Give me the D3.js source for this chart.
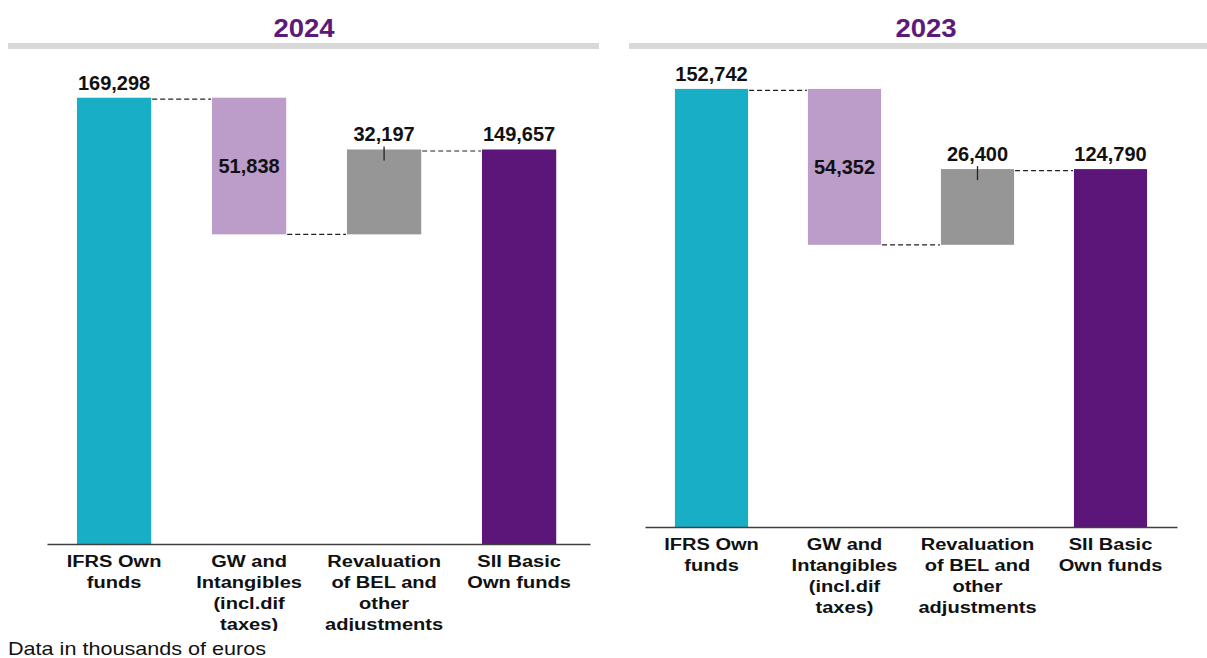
<!DOCTYPE html>
<html>
<head>
<meta charset="utf-8">
<script src="https://cdn.jsdelivr.net/npm/d3@7"></script>
<style>
  html, body { margin: 0; padding: 0; background: #fff; }
  svg { display: block; font-family: "Liberation Sans", Arial, sans-serif; }
</style>
</head>
<body>
<svg id="chart" width="1207" height="658"></svg>
<script>
// ---- data ----
const categories = [
  "IFRS Own\nfunds",
  "GW and\nIntangibles\n(incl.dif\ntaxes)",
  "Revaluation\nof BEL and\nother\nadjustments",
  "SII Basic\nOwn funds"
];
const years = ["2024", "2023"];
const values2024 = [169298, -51838, 32197, 149657];
const values2023 = [152742, -54352, 26400, 124790];
const barTypes = ["total", "delta", "delta", "total"];
const barColors = ["#17aec6", "#bc9cc8", "#969696", "#5c1579"];
const footnote = "Data in thousands of euros";

const svg = d3.select("#chart");
const fmt = d3.format(",");

const panels = [
  { year: years[0], values: values2024, x0: 47, x1: 590, base: 544, top: 69.5, yMax: 180000,
    padOuter: 0.236, align: 0.47,
    titleX: 304, ruleX0: 8, ruleX1: 599, clipBottom: 631 },
  { year: years[1], values: values2023, x0: 645, x1: 1177, base: 527, top: 68.1, yMax: 160000,
    padOuter: 0.225, align: 0.5,
    titleX: 926, ruleX0: 629, ruleX1: 1207, clipBottom: 658 }
];

panels.forEach((p, pi) => {
  const g = svg.append("g");

  // title + rule
  g.append("rect")
    .attr("x", p.ruleX0).attr("y", 43)
    .attr("width", p.ruleX1 - p.ruleX0).attr("height", 6)
    .attr("fill", "#d9d9d9");
  g.append("text")
    .attr("transform", `translate(${p.titleX},37) scale(1.1,1)`)
    .attr("text-anchor", "middle")
    .attr("font-size", 25).attr("font-weight", "bold")
    .attr("fill", "#5c1a7b")
    .text(p.year);

  const x = d3.scaleBand()
    .domain(categories)
    .range([p.x0, p.x1])
    .paddingInner(0.45)
    .paddingOuter(p.padOuter)
    .align(p.align);
  const y = d3.scaleLinear().domain([0, p.yMax]).range([p.base, p.top]);

  // compute waterfall extents
  let running = 0;
  const bars = p.values.map((v, i) => {
    let lo, hi;
    if (barTypes[i] === "total") { lo = 0; hi = v; running = v; }
    else { const start = running; running = start + v; lo = Math.min(start, running); hi = Math.max(start, running); }
    return { cat: categories[i], v, lo, hi, end: running, i };
  });

  // connectors
  for (let i = 0; i < bars.length - 1; i++) {
    const level = bars[i].end;
    const yy = y(level) + (level === bars[i].hi && level === bars[i + 1].hi ? 1.5 : 0);
    g.append("line")
      .attr("x1", x(bars[i].cat) + x.bandwidth() + 1)
      .attr("x2", x(bars[i + 1].cat) - 1)
      .attr("y1", yy).attr("y2", yy)
      .attr("stroke", "#222").attr("stroke-width", 1.2)
      .attr("stroke-dasharray", "5,3");
  }

  // bars
  g.selectAll("rect.bar").data(bars).join("rect")
    .attr("class", "bar")
    .attr("x", d => x(d.cat))
    .attr("y", d => y(d.hi))
    .attr("width", x.bandwidth())
    .attr("height", d => y(d.lo) - y(d.hi))
    .attr("fill", (d, i) => barColors[i]);

  // small tick marker on positive delta bars
  bars.filter(d => barTypes[d.i] === "delta" && d.v > 0).forEach(d => {
    g.append("line")
      .attr("x1", x(d.cat) + x.bandwidth() / 2)
      .attr("x2", x(d.cat) + x.bandwidth() / 2)
      .attr("y1", y(d.hi) - 3).attr("y2", y(d.hi) + 11)
      .attr("stroke", "#222").attr("stroke-width", 1.3);
  });

  // value labels
  g.selectAll("text.val").data(bars).join("text")
    .attr("class", "val")
    .attr("x", d => x(d.cat) + x.bandwidth() / 2)
    .attr("y", d => d.v < 0 ? (y(d.hi) + y(d.lo)) / 2 + 7 : y(d.hi) - 8)
    .attr("text-anchor", "middle")
    .attr("font-size", 20).attr("font-weight", "bold")
    .attr("fill", "#111")
    .text(d => fmt(Math.abs(d.v)));

  // axis
  const clipId = "clip" + pi;
  svg.append("clipPath").attr("id", clipId)
    .append("rect").attr("x", 0).attr("y", 0).attr("width", 1207).attr("height", p.clipBottom);
  const axisG = g.append("g")
    .attr("clip-path", `url(#${clipId})`)
    .append("g")
    .attr("transform", `translate(0,${p.base})`)
    .call(d3.axisBottom(x).tickSize(0).tickSizeOuter(0).tickFormat(""));
  axisG.select(".domain").attr("stroke", "#404040").attr("stroke-width", 1.3);
  axisG.selectAll(".tick").each(function (d) {
    const t = d3.select(this).append("text")
      .attr("text-anchor", "middle")
      .attr("font-size", 17).attr("font-weight", "bold")
      .attr("fill", "#111")
      .attr("transform", "scale(1.18,1)");
    d.split("\n").forEach((line, li) => {
      t.append("tspan").attr("x", 0).attr("y", 23 + li * 21).text(line);
    });
  });
});

svg.append("text")
  .attr("transform", "translate(8,655) scale(1.2,1)")
  .attr("font-size", 18)
  .attr("fill", "#111")
  .text(footnote);
</script>
</body>
</html>
